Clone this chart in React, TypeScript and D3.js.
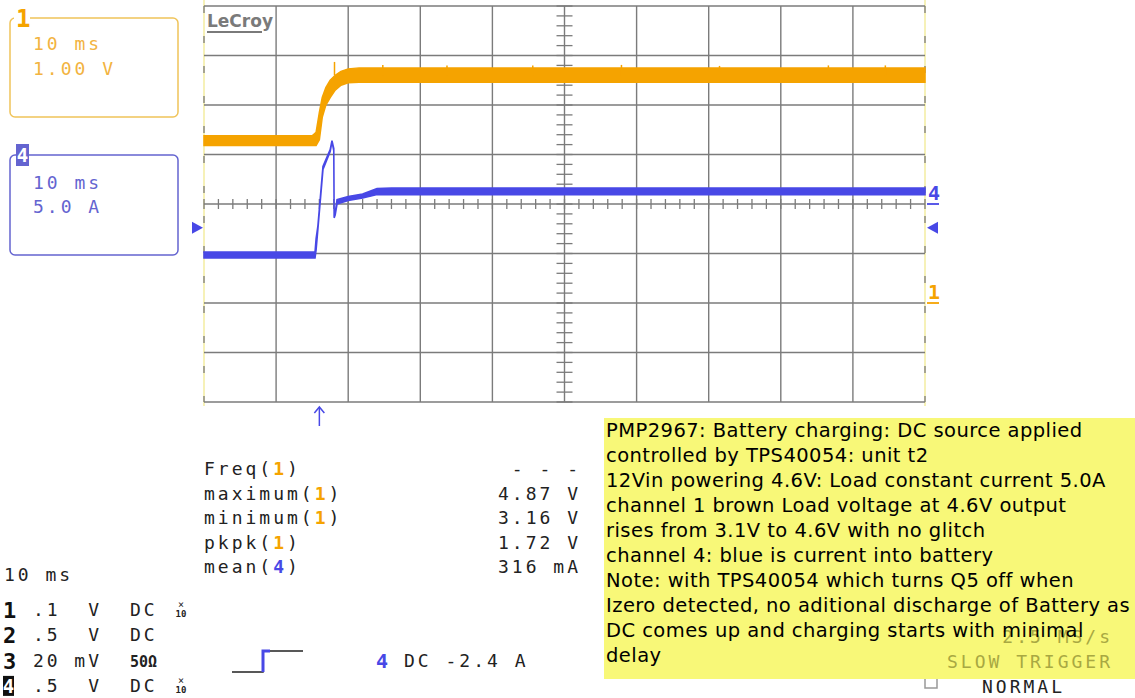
import React, { useRef, useEffect } from 'react';
import * as d3 from 'd3';

// channel 1 (load voltage), envelope of the noisy trace, ms / V
const ch1Time = [-16, -1.0, -0.45, 0, 0.4, 0.9, 1.5, 2.2, 3.0, 4.0, 5.5, 84];
const ch1High = [3.38, 3.38, 3.45, 3.85, 4.15, 4.35, 4.5, 4.6, 4.68, 4.73, 4.75, 4.75];
const ch1Low = [3.18, 3.18, 3.18, 3.3, 3.75, 4.0, 4.15, 4.3, 4.4, 4.45, 4.46, 4.46];
const ch1SpikeTime = [2.1, 8.8, 17.7, 29.6, 41.9, 55.5, 70.6, 78.5];
const ch1SpikeVolt = [4.87, 4.81, 4.8, 4.8, 4.81, 4.79, 4.8, 4.8];

// channel 4 (battery current), ms / A
const ch4Time = [-16, -0.6, -0.45, -0.2, 0.5, 1.5, 1.75, 2.0, 2.05, 2.2, 2.45, 4, 6, 8, 10, 84];
const ch4High = [-4.85, -4.85, -3.5, -2.2, 3.8, 5.5, 6.4, 5.6, -1.3, -0.9, 0.45, 0.75, 1.0, 1.55, 1.6, 1.6];
const ch4Low = [-5.45, -5.45, -4.6, -2.5, 3.5, 5.3, 6.3, 5.4, -1.4, -1.1, 0.0, 0.35, 0.6, 0.95, 0.95, 0.95];

const trigTime = 0;
const trigLevel = -2.4;

const measureNames = ['Freq', 'maximum', 'minimum', 'pkpk', 'mean'];
const measureChannels = ['1', '1', '1', '1', '4'];
const measureValues = ['- - -', '4.87 V', '3.16 V', '1.72 V', '316 mA'];

const chanIds = ['1', '2', '3', '4'];
const chanScale = ['.1', '.5', '20', '.5'];
const chanUnit = ['V', 'V', 'mV', 'V'];
const chanCoupling = ['DC', 'DC', '50Ω', 'DC'];
const chanProbe = [true, false, false, true];

const noteLines = [
  'PMP2967: Battery charging: DC source applied',
  'controlled by TPS40054: unit t2',
  '12Vin powering 4.6V: Load constant current 5.0A',
  'channel 1 brown Load voltage at 4.6V output',
  'rises from 3.1V to 4.6V with no glitch',
  'channel 4: blue is current into battery',
  'Note: with TPS40054 which turns Q5 off when',
  'Izero detected, no aditional discharge of Battery as',
  'DC comes up and charging starts with minimal',
  'delay',
];

const ORANGE = '#f5a300';
const ORANGE_TXT = '#f2b340';
const BLUE = '#4848e6';
const BLUE_BOX = '#6464d0';
const GRID = '#7b7b7b';
const MONO = 'DejaVu Sans Mono, monospace';

const Scope: React.FC<{ width: number; height: number }> = ({ width, height }) => {
  const svgRef = useRef<SVGSVGElement>(null);

  useEffect(() => {
    if (!svgRef.current) return;
    const svg = d3.select(svgRef.current).attr('width', width).attr('height', height);
    svg.selectAll('*').remove();

    const x = d3.scaleLinear().domain([-16, 84]).range([204, 925]);
    const y1 = d3.scaleLinear().domain([-2, 6]).range([402, 6]);
    const y4 = d3.scaleLinear().domain([-20, 20]).range([402, 6]);

    svg.append('rect').attr('width', width).attr('height', height).attr('fill', '#fff');

    // grid
    const grid = svg.append('g');
    const [x0, x1] = x.range();
    const [gb, gt] = y1.range();
    grid.append('line').attr('x1', x0).attr('x2', x0).attr('y1', 0).attr('y2', gb + 4)
      .attr('stroke', '#f6f1b8').attr('stroke-width', 2);
    grid.append('line').attr('x1', x1).attr('x2', x1).attr('y1', 0).attr('y2', gb + 4)
      .attr('stroke', '#f6f1b8').attr('stroke-width', 2);
    grid.selectAll('line.v')
      .data(d3.range(-6, 84, 10))
      .enter().append('line')
      .attr('x1', d => x(d)).attr('x2', d => x(d))
      .attr('y1', gt).attr('y2', gb)
      .attr('stroke', GRID).attr('stroke-width', 1.4);
    grid.selectAll('line.h')
      .data(d3.range(-2, 6.01, 1))
      .enter().append('line')
      .attr('x1', x0).attr('x2', x1)
      .attr('y1', d => y1(d)).attr('y2', d => y1(d))
      .attr('stroke', GRID).attr('stroke-width', 1.4);
    [x0, x1].forEach(xx => {
      grid.append('line').attr('x1', xx).attr('x2', xx).attr('y1', gt).attr('y2', gb)
        .attr('stroke', GRID).attr('stroke-width', 1.3).attr('stroke-dasharray', '7 23');
    });
    // centre axis minor ticks
    grid.selectAll('line.tx')
      .data(d3.range(-16, 84.01, 2))
      .enter().append('line')
      .attr('x1', d => x(d)).attr('x2', d => x(d))
      .attr('y1', y1(2) - 5).attr('y2', y1(2) + 5)
      .attr('stroke', GRID).attr('stroke-width', 1.3);
    grid.selectAll('line.ty')
      .data(d3.range(-2, 6.01, 0.2))
      .enter().append('line')
      .attr('x1', x(34) - 8).attr('x2', x(34) + 8)
      .attr('y1', d => y1(d)).attr('y2', d => y1(d))
      .attr('stroke', GRID).attr('stroke-width', 1.3);

    // LeCroy logo
    svg.append('text').attr('x', 207).attr('y', 27).text('LeCroy')
      .attr('font-family', 'DejaVu Sans, sans-serif').attr('font-weight', 'bold')
      .attr('font-size', 17).attr('textLength', 66).attr('fill', '#7a7a7a');
    svg.append('line').attr('x1', 207).attr('x2', 262).attr('y1', 32).attr('y2', 32)
      .attr('stroke', '#7a7a7a').attr('stroke-width', 2);

    // channel 1 trace
    const t1 = ch1Time.map((t, i) => ({ t, hi: ch1High[i], lo: ch1Low[i] }));
    const area1 = d3.area<{ t: number; hi: number; lo: number }>()
      .x(d => x(d.t)).y0(d => y1(d.lo)).y1(d => y1(d.hi));
    svg.append('path').datum(t1).attr('d', area1)
      .attr('fill', ORANGE).attr('stroke', ORANGE).attr('stroke-width', 1.5);
    svg.selectAll('line.spike')
      .data(ch1SpikeTime)
      .enter().append('line')
      .attr('x1', d => x(d)).attr('x2', d => x(d))
      .attr('y1', y1(4.6)).attr('y2', (d, i) => y1(ch1SpikeVolt[i]))
      .attr('stroke', ORANGE).attr('stroke-width', 1.5);

    // channel 4 trace
    const t4 = ch4Time.map((t, i) => ({ t, hi: ch4High[i], lo: ch4Low[i] }));
    const area4 = d3.area<{ t: number; hi: number; lo: number }>()
      .x(d => x(d.t)).y0(d => y4(d.lo)).y1(d => y4(d.hi));
    svg.append('path').datum(t4).attr('d', area4)
      .attr('fill', BLUE).attr('stroke', BLUE).attr('stroke-width', 1.6);

    // trigger markers
    const ty = y4(trigLevel);
    svg.append('path').attr('d', `M${x0 - 12},${ty - 6}L${x0 - 1},${ty}L${x0 - 12},${ty + 6}Z`).attr('fill', BLUE);
    svg.append('path').attr('d', `M${x1 + 13},${ty - 6}L${x1 + 2},${ty}L${x1 + 13},${ty + 6}Z`).attr('fill', BLUE);
    const tx = x(trigTime);
    svg.append('line').attr('x1', tx).attr('x2', tx).attr('y1', gb + 6).attr('y2', gb + 24)
      .attr('stroke', BLUE).attr('stroke-width', 1.5);
    svg.append('path').attr('d', `M${tx - 5},${gb + 11}L${tx},${gb + 5}L${tx + 5},${gb + 11}`)
      .attr('fill', 'none').attr('stroke', BLUE).attr('stroke-width', 1.5);

    // ground markers on the right
    const gnd = [
      { label: '4', y: y4(0), c: BLUE },
      { label: '1', y: y1(0), c: ORANGE },
    ];
    gnd.forEach(m => {
      svg.append('text').attr('x', x1 + 3).attr('y', m.y - 4).text(m.label)
        .attr('font-family', MONO).attr('font-weight', 'bold').attr('font-size', 20).attr('fill', m.c);
      svg.append('line').attr('x1', x1 + 2).attr('x2', x1 + 14).attr('y1', m.y).attr('y2', m.y)
        .attr('stroke', m.c).attr('stroke-width', 1.8);
    });

    const mono = (g: any, xx: number, yy: number, s: string, fill: string, anchor = 'start', size = 18) =>
      g.append('text').attr('x', xx).attr('y', yy).text(s)
        .attr('font-family', MONO).attr('font-size', size).attr('letter-spacing', 3)
        .attr('text-anchor', anchor).attr('fill', fill);

    // channel boxes
    svg.append('rect').attr('x', 10).attr('y', 18).attr('width', 168).attr('height', 99).attr('rx', 5)
      .attr('fill', 'none').attr('stroke', '#f0c45a').attr('stroke-width', 1.5);
    svg.append('rect').attr('x', 14).attr('y', 12).attr('width', 16).attr('height', 12).attr('fill', '#fff');
    svg.append('text').attr('x', 16).attr('y', 27).text('1')
      .attr('font-family', MONO).attr('font-weight', 'bold').attr('font-size', 24).attr('fill', ORANGE);
    mono(svg, 33, 50, '10 ms', ORANGE_TXT);
    mono(svg, 33, 75, '1.00 V', ORANGE_TXT);

    svg.append('rect').attr('x', 10).attr('y', 155).attr('width', 168).attr('height', 100).attr('rx', 5)
      .attr('fill', 'none').attr('stroke', BLUE_BOX).attr('stroke-width', 1.5);
    svg.append('rect').attr('x', 16).attr('y', 144).attr('width', 13).attr('height', 22).attr('fill', BLUE_BOX);
    svg.append('text').attr('x', 22.5).attr('y', 162).text('4').attr('text-anchor', 'middle')
      .attr('font-family', MONO).attr('font-weight', 'bold').attr('font-size', 19).attr('fill', '#fff');
    mono(svg, 33, 189, '10 ms', BLUE_BOX);
    mono(svg, 33, 213, '5.0 A', BLUE_BOX);

    // measurements
    measureNames.forEach((n, i) => {
      const yy = 475 + i * 24.5;
      const t = svg.append('text').attr('x', 204).attr('y', yy)
        .attr('font-family', MONO).attr('font-size', 18).attr('letter-spacing', 3).attr('fill', '#222');
      t.append('tspan').text(n + '(');
      t.append('tspan').text(measureChannels[i]).attr('font-weight', 'bold')
        .attr('fill', measureChannels[i] === '4' ? BLUE : ORANGE);
      t.append('tspan').text(')');
      mono(svg, 581, yy, measureValues[i], '#222', 'end');
    });

    // timebase + channel settings
    mono(svg, 4, 581, '10 ms', '#222');
    chanIds.forEach((c, i) => {
      const yy = 616 + i * 25.3;
      if (c === '4') {
        svg.append('rect').attr('x', 3).attr('y', yy - 16).attr('width', 11).attr('height', 20).attr('fill', '#111');
        svg.append('text').attr('x', 8.5).attr('y', yy + 1).text(c).attr('text-anchor', 'middle')
          .attr('font-family', MONO).attr('font-weight', 'bold').attr('font-size', 19).attr('fill', '#fff');
      } else {
        svg.append('text').attr('x', 3).attr('y', yy + 2).text(c)
          .attr('font-family', MONO).attr('font-weight', 'bold').attr('font-size', 22).attr('fill', '#111');
      }
      mono(svg, 33, yy, chanScale[i], '#222');
      mono(svg, 102, yy, chanUnit[i], '#222', 'end');
      if (chanCoupling[i] === '50Ω') {
        svg.append('text').attr('x', 130).attr('y', yy).text(chanCoupling[i])
          .attr('font-family', MONO).attr('font-weight', 'bold').attr('font-size', 15).attr('fill', '#222');
      } else {
        mono(svg, 130, yy, chanCoupling[i], '#222');
      }
      if (chanProbe[i]) {
        svg.append('text').attr('x', 181).attr('y', yy - 8).text('×').attr('text-anchor', 'middle')
          .attr('font-family', MONO).attr('font-size', 10).attr('fill', '#222');
        svg.append('text').attr('x', 181).attr('y', yy + 1).text('10').attr('text-anchor', 'middle')
          .attr('font-family', MONO).attr('font-weight', 'bold').attr('font-size', 9).attr('fill', '#222');
      }
    });

    // trigger icon and setting
    svg.append('path').attr('d', 'M232,672H263V651H303').attr('fill', 'none').attr('stroke', '#222').attr('stroke-width', 1.5);
    svg.append('path').attr('d', 'M263,672V651H270').attr('fill', 'none').attr('stroke', BLUE).attr('stroke-width', 3);
    svg.append('text').attr('x', 376).attr('y', 668).text('4')
      .attr('font-family', MONO).attr('font-weight', 'bold').attr('font-size', 20).attr('fill', BLUE);
    mono(svg, 404, 667, 'DC -2.4 A', '#222');

    // acquisition status
    svg.append('rect').attr('x', 925).attr('y', 674).attr('width', 12).attr('height', 14)
      .attr('fill', 'none').attr('stroke', '#999').attr('stroke-width', 1.5);
    mono(svg, 982, 693, 'NORMAL', '#222');

    // yellow note, with the status lines showing through it
    svg.append('rect').attr('x', 604).attr('y', 418).attr('width', width - 604).attr('height', 261)
      .attr('fill', '#f8f878');
    mono(svg, 1113, 643, '2.5 MS/s', '#a8a842', 'end');
    mono(svg, 1113, 668, 'SLOW TRIGGER', '#a8a842', 'end');
    svg.append('g').selectAll('text')
      .data(noteLines)
      .enter().append('text')
      .attr('x', 606).attr('y', (d, i) => 437 + i * 25)
      .text(d => d)
      .attr('font-family', 'DejaVu Sans, Verdana, sans-serif').attr('font-size', 19.5)
      .attr('letter-spacing', 0.45)
      .attr('fill', '#000');
  }, [width, height]);

  return <svg ref={svgRef} style={{ position: 'absolute', left: 0, top: 0 }} />;
};

export default function App() {
  return <Scope width={1135} height={698} />;
}
